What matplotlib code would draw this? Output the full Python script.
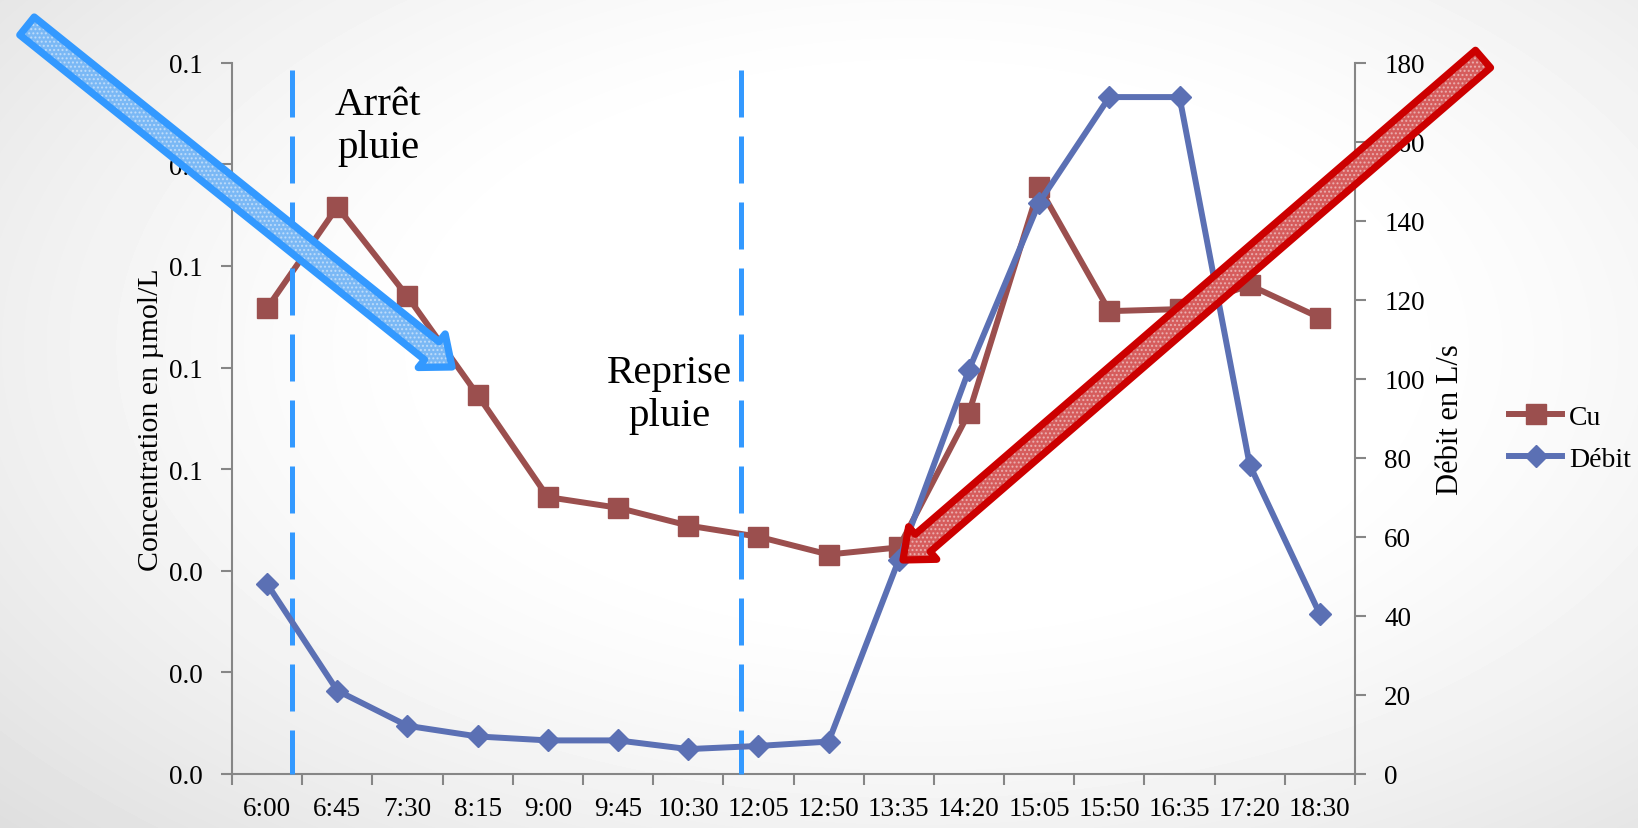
import numpy as np
import matplotlib
matplotlib.use("Agg")
import matplotlib.pyplot as plt
from matplotlib.patches import FancyArrow
from matplotlib.ticker import FormatStrFormatter
from matplotlib.lines import Line2D

# Sampling times and measured series
times = ["6:00", "6:45", "7:30", "8:15", "9:00", "9:45", "10:30", "12:05",
         "12:50", "13:35", "14:20", "15:05", "15:50", "16:35", "17:20", "18:30"]
cu = [0.0917, 0.1116, 0.0940, 0.0746, 0.0545, 0.0524, 0.0489, 0.0467,
      0.0432, 0.0446, 0.0711, 0.1155, 0.0911, 0.0915, 0.0962, 0.0898]
debit = [48.1, 21.1, 12.2, 9.5, 8.5, 8.5, 6.3, 7.1,
         8.2, 54.2, 102.3, 144.6, 171.3, 171.3, 78.2, 40.4]
conc_ticks = [0.00, 0.02, 0.04, 0.06, 0.08, 0.10, 0.12, 0.14]
flow_ticks = [0, 20, 40, 60, 80, 100, 120, 140, 160, 180]

CU_COLOR = "#9b4f4e"
DEBIT_COLOR = "#5b70b4"
EVENT_COLOR = "#3399ff"
AXIS_COLOR = "#868686"
SERIF = ["Liberation Serif", "DejaVu Serif"]

plt.rcParams["font.family"] = SERIF
plt.rcParams["font.size"] = 19

W, H = 1638, 829
fig = plt.figure(figsize=(W / 100, H / 100), dpi=100)

# soft radial background
bg = fig.add_axes([0, 0, 1, 1], zorder=-10)
yy, xx = np.mgrid[0:H, 0:W]
dx = (xx / W - 0.56)
dy = (yy / H - 0.42) * 0.9
r = np.sqrt(dx ** 2 + dy ** 2)
t = np.clip((r - 0.28) / 0.5, 0, 1) ** 1.3
shade = 255 - 34 * t
bg.imshow(shade, cmap="gray", vmin=0, vmax=255, aspect="auto",
          extent=[0, W, H, 0], interpolation="bilinear")
bg.set_xlim(0, W)
bg.set_ylim(H, 0)
bg.axis("off")

ax = fig.add_axes([232 / W, 1 - 775 / H, (1355 - 232) / W, (775 - 63.7) / H])
ax.patch.set_alpha(0)
ax2 = ax.twinx()
ax2.patch.set_alpha(0)

x = np.arange(len(times))

ax.plot(x, cu, color=CU_COLOR, lw=4.3, marker="s", ms=15,
        mec=CU_COLOR, mfc=CU_COLOR, clip_on=False, zorder=3)
ax2.plot(x, debit, color=DEBIT_COLOR, lw=4.3, marker="D", ms=11,
         mec=DEBIT_COLOR, mfc=DEBIT_COLOR, clip_on=False, zorder=3)

# axes limits and ticks
ax.set_xlim(-0.5, len(times) - 0.5)
ax.set_ylim(0, 0.14)
ax2.set_ylim(0, 180)

ax.set_xticks(x)
ax.set_xticklabels(times)
ax.set_xticks(np.arange(-0.5, len(times), 1.0), minor=True)
ax.tick_params(axis="x", which="major", length=0, pad=16, labelsize=19.5)
ax.tick_params(axis="x", which="minor", length=8, width=1.5,
               color=AXIS_COLOR, direction="out")

ax.set_yticks(conc_ticks)
ax.yaxis.set_major_formatter(FormatStrFormatter("%.1f"))
ax.tick_params(axis="y", length=8, width=1.5, color=AXIS_COLOR, pad=13,
               labelsize=19.5)
ax2.set_yticks(flow_ticks)
ax2.tick_params(axis="y", length=8, width=1.5, color=AXIS_COLOR, pad=13,
                labelsize=19.5)

for s in ["top", "right"]:
    ax.spines[s].set_visible(False)
for s in ["top", "left", "bottom"]:
    ax2.spines[s].set_visible(False)
for sp in [ax.spines["left"], ax.spines["bottom"], ax2.spines["right"]]:
    sp.set_color(AXIS_COLOR)
    sp.set_linewidth(1.5)

ax.set_ylabel("Concentration en µmol/L", fontsize=21.5, labelpad=4)
ax2.set_ylabel("Débit en L/s", fontsize=22, labelpad=8)

# rain stop / restart markers
rain_events = [0.35, 6.75]
for xe in rain_events:
    ax.plot([xe, xe], [0.1386, 0.0], color=EVENT_COLOR, lw=3.6,
            linestyle=(0, (9.4, 3.8)), solid_capstyle="butt",
            dash_capstyle="butt", clip_on=False, zorder=4)

ax.text(1.58, 0.1276, "Arrêt\npluie", ha="center", va="center",
        fontsize=29.5, linespacing=1.2, zorder=5)
ax.text(5.73, 0.0748, "Reprise\npluie", ha="center", va="center",
        fontsize=29.5, linespacing=1.2, zorder=5)

# legend
handles = [
    Line2D([], [], color=CU_COLOR, lw=4.3, marker="s", ms=15),
    Line2D([], [], color=DEBIT_COLOR, lw=4.3, marker="D", ms=11),
]
fig.legend(handles, ["Cu", "Débit"], loc="center left",
           bbox_to_anchor=(1498 / W, 1 - 439 / H), frameon=False,
           fontsize=20, handlelength=1.9, handletextpad=0.25,
           labelspacing=0.6, borderaxespad=0)

# highlight arrows
ov = fig.add_axes([0, 0, 1, 1], zorder=10)
ov.set_xlim(0, W)
ov.set_ylim(H, 0)
ov.axis("off")
ov.patch.set_alpha(0)


def draw_arrow(x0, y0, x1, y1, fill, edge):
    kw = dict(width=23, head_width=43, head_length=26,
              length_includes_head=True)
    ov.add_patch(FancyArrow(x0, y0, x1 - x0, y1 - y0, fc=fill, ec="none",
                            lw=0, **kw))
    ov.add_patch(FancyArrow(x0, y0, x1 - x0, y1 - y0, fc="none", ec="white",
                            lw=0, hatch="....", alpha=0.45, **kw))
    ov.add_patch(FancyArrow(x0, y0, x1 - x0, y1 - y0, fc="none", ec=edge,
                            lw=5.2, joinstyle="round", **kw))


draw_arrow(27, 27, 452, 368, "#7ab8f5", EVENT_COLOR)
draw_arrow(1483, 60, 903, 561, "#d65c5c", "#cc0000")

fig.savefig("out.png", dpi=100)
